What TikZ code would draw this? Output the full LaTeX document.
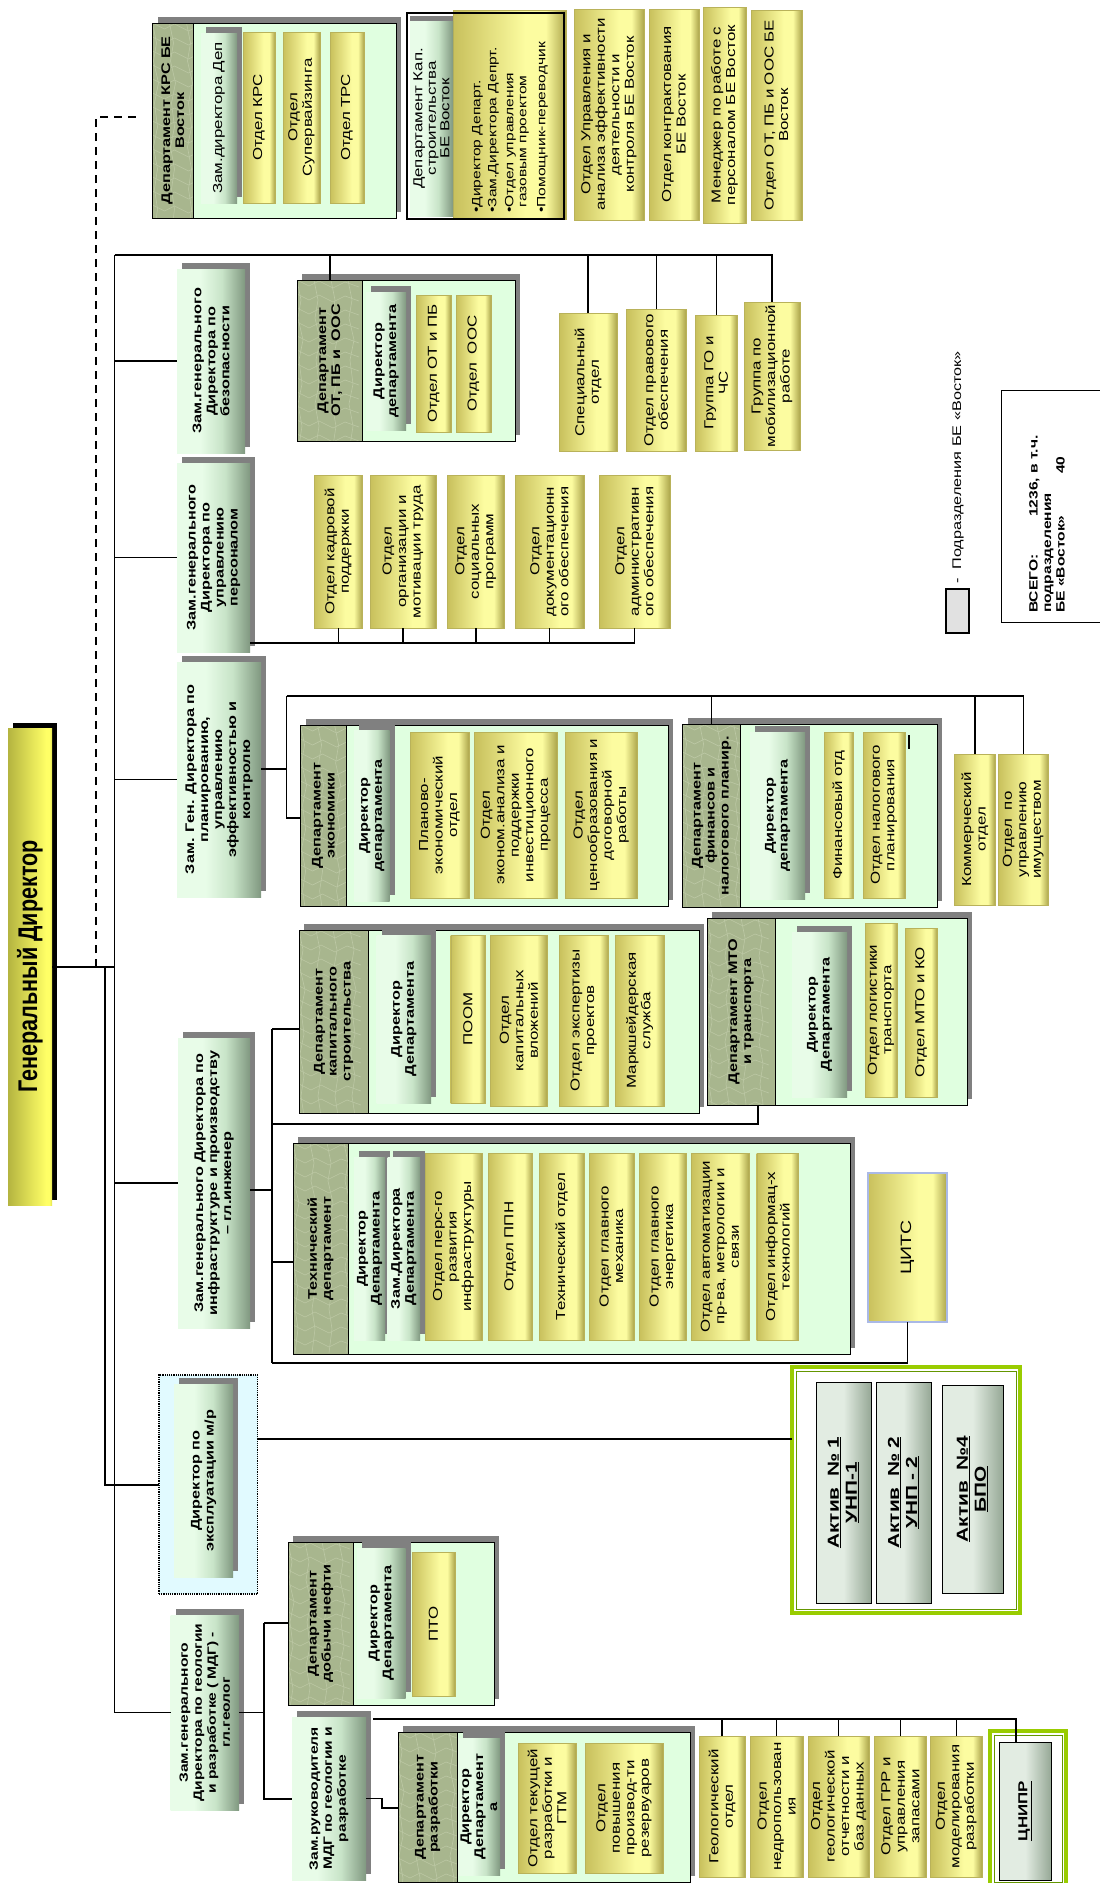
\documentclass[tikz,border=0pt]{standalone}
\usepackage{fontspec}
\setmainfont{Liberation Sans}[FakeStretch=1.3]
\newfontfamily\gdfont[FakeStretch=0.8]{Liberation Sans}
\usetikzlibrary{shadows}
\definecolor{yL}{RGB}{200,192,92}
\definecolor{yM}{RGB}{252,252,160}
\definecolor{yR}{RGB}{172,165,75}
\definecolor{yEdge}{RGB}{185,178,90}
\definecolor{mA}{RGB}{232,252,232}
\definecolor{mB}{RGB}{200,228,200}
\definecolor{mC}{RGB}{128,152,128}
\definecolor{gA}{RGB}{226,236,226}
\definecolor{gC}{RGB}{150,168,150}
\definecolor{hdrc}{RGB}{168,182,142}
\definecolor{hdrl}{RGB}{188,200,165}
\definecolor{grpc}{RGB}{224,255,224}
\definecolor{shc}{RGB}{128,128,128}
\definecolor{gdL}{RGB}{180,180,64}
\definecolor{gdM}{RGB}{255,255,102}
\definecolor{gdR}{RGB}{225,225,80}
\definecolor{lime}{RGB}{153,204,0}
\definecolor{limeD}{RGB}{100,150,0}
\definecolor{cyanbg}{RGB}{225,250,255}
\definecolor{citsb}{RGB}{170,185,230}
\definecolor{legc}{RGB}{225,225,225}
\pgfdeclarehorizontalshading{yelsh}{100bp}{color(0bp)=(yL); color(25bp)=(yL); color(57bp)=(yM); color(66bp)=(yM); color(75bp)=(yR); color(100bp)=(yR)}
\pgfdeclarehorizontalshading{mintsh}{100bp}{color(0bp)=(mA); color(25bp)=(mA); color(42bp)=(mA); color(58bp)=(mB); color(75bp)=(mC); color(100bp)=(mC)}
\pgfdeclarehorizontalshading{graysh}{100bp}{color(0bp)=(gA); color(25bp)=(gA); color(50bp)=(gA); color(75bp)=(gC); color(100bp)=(gC)}
\pgfdeclarehorizontalshading{gdsh}{100bp}{color(0bp)=(gdL); color(25bp)=(gdL); color(68bp)=(gdM); color(72bp)=(gdM); color(75bp)=(gdR); color(100bp)=(gdR)}
\newcommand\fs{\fontsize{13}{14.5}\selectfont}
\tikzset{
 bx/.style={inner sep=0pt, outer sep=0pt},
 yel/.style={bx, shade, shading=yelsh, draw=yEdge, line width=0.4pt},
 mint/.style={bx, shade, shading=mintsh},
 gry/.style={bx, shade, shading=graysh, draw=black, line width=0.6pt},
 hdr/.style={bx, fill=hdrc, draw=black, line width=0.8pt,
   path picture={\foreach \k in {0,...,14}{\draw[hdrl, line width=0.6pt]
     ([yshift=-\k*14pt]path picture bounding box.north west) -- ++(12pt,-6pt) -- ++(10pt,5pt) -- ++(14pt,-7pt) -- ++(12pt,6pt) -- ++(14pt,-5pt);
     \draw[hdrl, line width=0.6pt] ([xshift=\k*17pt]path picture bounding box.north west) -- ++(4pt,-20pt) -- ++(-3pt,-18pt) -- ++(5pt,-22pt) -- ++(-4pt,-20pt) -- ++(3pt,-24pt) -- ++(-4pt,-20pt) -- ++(4pt,-22pt) -- ++(-3pt,-20pt) -- ++(3pt,-20pt) -- ++(-3pt,-24pt);}}},
 grp/.style={bx, fill=grpc, draw=black, line width=0.8pt},
 shd/.style={general shadow={fill=shc, shadow xshift=5pt, shadow yshift=6pt}},
 txt/.style={inner sep=0pt, align=center, font=\fs},
 bt/.style={font=\fontsize{12.5}{14}\selectfont\bfseries},
 bts/.style={font=\fontsize{12}{14}\selectfont\bfseries},
 acttxt/.style={font=\fontsize{16}{18}\selectfont\bfseries},
 conn/.style={draw=black, line width=1.5pt},
 dconn/.style={draw=black, line width=1.5pt, dash pattern=on 8pt off 6pt},
}
% #1 box style, #2 text style, #3 name, #4 x1, #5 y1, #6 x2, #7 y2 (pixels, y downward), #8 text
\newcommand\ub[8]{%
 \pgfmathsetmacro\ubW{#6-#4}\pgfmathsetmacro\ubH{#7-#5}\pgfmathsetmacro\ubT{#7-#5-2}%
 \node[#1, minimum width=\ubW pt, minimum height=\ubH pt] (#3) at ({(#4+#6)/2},{-(#5+#7)/2}) {};
 \node[txt, rotate=90, text width=\ubT pt, #2] (#3-t) at (#3.center) {#8};}
\newcommand\boxY[6]{\ub{yel}{}{#1}{#2}{#3}{#4}{#5}{#6}}
\newcommand\boxM[6]{\ub{mint,shd}{bt}{#1}{#2}{#3}{#4}{#5}{#6}}
\newcommand\boxMs[6]{\ub{mint,shd}{bts}{#1}{#2}{#3}{#4}{#5}{#6}}
\newcommand\boxMr[6]{\ub{mint,shd}{}{#1}{#2}{#3}{#4}{#5}{#6}}
\newcommand\boxH[6]{\ub{hdr}{bt}{#1}{#2}{#3}{#4}{#5}{#6}}
\newcommand\boxG[5]{\ub{grp,shd}{}{#1}{#2}{#3}{#4}{#5}{}}
\newcommand\boxA[6]{\ub{gry}{acttxt}{#1}{#2}{#3}{#4}{#5}{#6}}
\begin{document}
\begin{tikzpicture}[x=1pt,y=1pt]
\useasboundingbox[fill=white] (0,0) rectangle (1100,-1883);

% General director
\node[bx, shade, shading=gdsh, general shadow={fill=black, shadow xshift=4.5pt, shadow yshift=5pt}, minimum width=44pt, minimum height=477pt] (gd) at (30,-966.5) {};
\node[txt, rotate=90, font=\gdfont\bfseries\fontsize{27}{30}\selectfont] (gd-t) at (gd.center) {Генеральный Директор};

% ---------- top row ----------
\boxG{krsG}{152.5}{23}{396}{218}
\boxH{krsH}{152.5}{23}{193}{218}{Департамент КРС БЕ\\Восток}
\boxMr{krsM}{201}{33}{237}{203}{Зам.директора Деп}
\boxY{krs1}{243}{32}{275}{203}{Отдел КРС}
\boxY{krs2}{283}{32}{320}{203}{Отдел\\Супервайзинга}
\boxY{krs3}{330}{32}{364}{203}{Отдел ТРС}

\boxY{kapY}{453}{10}{566}{219}{}
\fill[shc] (410,-16) rectangle (453,-21);
\ub{mint}{font=\fontsize{13}{13.5}\selectfont}{kapM}{410}{21}{453}{216}{Департамент Кап.\\строительства\\БЕ Восток}
\node[bx, draw=black, line width=1.6pt, minimum width=157pt, minimum height=206pt] (kapB) at (485.5,-116) {};
\node[txt, rotate=90, anchor=west, align=left, font=\fontsize{12}{13}\selectfont] (kapT) at (510,-213) {•Директор Департ.\\[3pt]•Зам.Директора Депрт.\\[4pt]•Отдел управления\\\hphantom{•}газовым проектом\\[6pt]•Помощник-переводчик};

\boxY{top1}{574}{9}{644}{220}{Отдел Управления и\\анализа эффективности\\деятельности и\\контроля БЕ Восток}
\boxY{top2}{649}{9}{699}{220}{Отдел контрактования\\БЕ Восток}
\boxY{top3}{703}{7}{746}{223}{Менеджер по работе с\\персоналом БЕ Восток}
\boxY{top4}{751}{10}{802}{220}{Отдел ОТ, ПБ и ООС БЕ\\Восток}

% ---------- safety ----------
\boxM{zamB}{177}{269}{245}{453}{Зам.генерального\\Директора по\\безопасности}
\boxG{otG}{297}{280}{515}{441}
\boxH{otH}{297}{280}{362.5}{441}{Департамент\\ОТ, ПБ и\ \ ООС}
\boxM{otD}{366}{292}{406}{430}{Директор\\департамента}
\boxY{ot1}{416.6}{295}{450.7}{432}{Отдел ОТ и ПБ}
\boxY{ot2}{456}{295}{491}{432}{Отдел\ \ ООС}
\boxY{spec}{559}{313}{617}{451}{Специальный\\отдел}
\boxY{prav}{626.5}{309}{686}{451}{Отдел правового\\обеспечения}
\boxY{gochs}{695.5}{315}{737}{451}{Группа ГО и\\ЧС}
\boxY{mob}{744}{302}{800}{450}{Группа по\\мобилизационной\\работе}

% ---------- personnel ----------
\boxM{zamP}{177}{463}{250}{652}{Зам.генерального\\Директора по\\управлению\\персоналом}
\boxY{p1}{314}{475}{362.5}{628}{Отдел кадровой\\поддержки}
\boxY{p2}{370}{475}{436}{628}{Отдел\\организации и\\мотивации труда}
\boxY{p3}{447.5}{475}{504}{628}{Отдел\\социальных\\программ}
\boxY{p4}{515}{475}{584}{628}{Отдел\\документационн\\ого обеспечения}
\boxY{p5}{599}{475}{670}{628}{Отдел\\административн\\ого обеспечения}

% ---------- planning ----------
\boxM{zamPl}{177}{662}{261}{897}{Зам. Ген. Директора по\\планированию,\\управлению\\эффективностью и\\контролю}
\boxG{ecoG}{300.6}{725}{668}{906}
\boxH{ecoH}{300.6}{725}{346}{906}{Департамент\\экономики}
\boxM{ecoD}{354}{730}{389.5}{901}{Директор\\департамента}
\boxY{eco1}{410}{732}{469}{898}{Планово-\\экономический\\отдел}
\boxY{eco2}{474.5}{732}{557}{898}{Отдел\\эконом.анализа и\\поддержки\\инвестиционного\\процесса}
\boxY{eco3}{565}{732}{637.5}{898}{Отдел\\ценообразования и\\договорной\\работы}
\boxG{finG}{682.6}{724}{937}{907}
\boxH{finH}{682.6}{724}{740.6}{907}{Департамент\\финансов и\\налогового планир.}
\boxM{finD}{750}{732}{805}{899}{Директор\\департамента}
\boxY{fin1}{824}{732}{853}{898}{Финансовый отд}
\boxY{fin2}{863}{732}{905}{898}{Отдел налогового\\планирования}
\draw[line width=1.2pt] ([xshift=-28pt,yshift=-11pt]finG.north east) -- ++(0,-14);
\boxY{kom}{954.5}{754}{995}{905}{Коммерческий\\отдел}
\boxY{imu}{998}{754}{1048.5}{905}{Отдел\ \ по\\управлению\\имуществом}

% ---------- infrastructure ----------
\boxM{zamI}{178}{1038}{250}{1328}{Зам.генерального Директора по\\инфраструктуре и производству\\– гл.инженер}
\boxG{kcG}{299}{930}{699}{1113}
\boxH{kcH}{299}{930}{368}{1113}{Департамент\\капитального\\строительства}
\boxM{kcD}{376.6}{935}{431}{1103}{Директор\\Департамента}
\boxY{kc1}{450.7}{935}{485}{1103}{ПООМ}
\boxY{kc2}{490.6}{935}{547}{1106}{Отдел\\капитальных\\вложений}
\boxY{kc3}{559}{935}{608.5}{1106}{Отдел экспертизы\\проектов}
\boxY{kc4}{615}{935}{664.5}{1106}{Маркшейдерская\\служба}
\boxG{mtoG}{707}{918}{967}{1105}
\boxH{mtoH}{707}{918}{775}{1105}{Департамент МТО\\и транспорта}
\boxM{mtoD}{792}{932}{847}{1097}{Директор\\Департамента}
\boxY{mto1}{865}{923}{897}{1097}{Отдел логистики\\транспорта}
\boxY{mto2}{905}{928}{937}{1097}{Отдел МТО и КО}

\boxG{tecG}{293}{1143}{850}{1354}
\boxH{tecH}{293}{1143}{348}{1354}{Технический\\департамент}
\boxM{tecD}{354}{1157}{385}{1340}{Директор\\Департамента}
\boxM{tecZ}{387.6}{1157}{420}{1340}{Зам.Директора\\Департамента}
\boxY{tec1}{425}{1153}{482}{1340}{Отдел перс-го\\развития\\инфраструктуры}
\boxY{tec2}{488}{1153}{532.5}{1340}{Отдел ППН}
\boxY{tec3}{539}{1153}{584}{1340}{Технический отдел}
\boxY{tec4}{589}{1153}{634}{1340}{Отдел главного\\механика}
\boxY{tec5}{639.5}{1153}{686}{1340}{Отдел главного\\энергетика}
\boxY{tec6}{691}{1153}{749}{1340}{Отдел автоматизации\\пр-ва, метрологии и\\связи}
\boxY{tec7}{756.7}{1153}{798.5}{1340}{Отдел информац-х\\технологий}
\ub{yel, draw=citsb, line width=2pt}{font=\fontsize{15}{17}\selectfont}{cits}{867.5}{1173}{947}{1322}{ЦИТС}

% ---------- exploitation ----------
\ub{bx, fill=cyanbg, draw=black, densely dotted, line width=1.2pt}{}{exd}{159}{1375}{257.5}{1594}{}
\boxM{exM}{174}{1384}{233}{1577}{Директор по\\эксплуатации м/р}
\ub{bx, fill=white, draw=lime, line width=4pt}{}{act}{792}{1367}{1020}{1613}{}
\draw[limeD, line width=1pt] ([shift={(4,-4)}]act.north west) rectangle ([shift={(-4,4)}]act.south east);
\boxA{a1}{816}{1382}{871}{1603}{\underline{Актив\ \ № 1}\\\underline{УНП-1}}
\boxA{a2}{876}{1382}{931}{1603}{\underline{Актив\ \ № 2}\\\underline{УНП - 2}}
\boxA{a3}{942}{1385}{1003}{1593}{\underline{Актив\ \ №4}\\\underline{БПО}}

% ---------- geology ----------
\boxMs{zamG}{170.5}{1615}{239}{1810}{Зам.генерального\\Директора по геологии\\и разработке ( МДГ) -\\гл.геолог}
\boxG{dobG}{288}{1542}{494}{1705}
\boxH{dobH}{288}{1542}{353}{1705}{Департамент\\добычи нефти}
\boxM{dobD}{357}{1548}{405.6}{1698}{Директор\\Департамента}
\boxY{pto}{412}{1552}{455}{1696}{ПТО}
\boxMs{zamM}{292}{1717}{366}{1880}{Зам.руководителя\\МДГ по геологии и\\разработке}
\boxG{razG}{398}{1732}{690}{1882}
\boxH{razH}{398}{1732}{457}{1882}{Департамент\\разработки}
\boxM{razD}{458}{1738}{500}{1875}{Директор\\Департамент\\а}
\boxY{raz1}{518}{1743}{576}{1873}{Отдел текущей\\разработки и\\ГТМ}
\boxY{raz2}{585}{1743}{663}{1873}{Отдел\\повышения\\производ-ти\\резервуаров}
\boxY{g1}{699}{1736}{745}{1877}{Геологический\\отдел}
\boxY{g2}{750}{1736}{803}{1877}{Отдел\\недропользован\\ия}
\boxY{g3}{808}{1736}{869}{1877}{Отдел\\геологической\\отчетности и\\баз данных}
\boxY{g4}{874.6}{1736}{926}{1877}{Отдел ГРР и\\управления\\запасами}
\boxY{g5}{930.6}{1736}{982}{1877}{Отдел\\моделирования\\разработки}
\ub{bx, fill=white, draw=lime, line width=4pt}{}{cnF}{990}{1731}{1066}{1886}{}
\draw[limeD, line width=1pt] ([shift={(4,-4)}]cnF.north west) rectangle ([shift={(-4,4)}]cnF.south east);
\ub{gry}{font=\fontsize{13}{15}\selectfont\bfseries}{cnipr}{999.5}{1742}{1051}{1880}{\underline{ЦНИПР}}

% ---------- legend ----------
\node[bx, fill=legc, draw=black, line width=1.8pt, minimum width=23pt, minimum height=44pt] (leg) at (957.5,-611) {};
\node[txt, rotate=90, anchor=west, font=\fontsize{12.5}{14}\selectfont] (leg-t) at (958,-584) {-\ \ Подразделения БЕ «Восток»};
\node[bx, draw=black, line width=0.8pt, minimum width=106pt, minimum height=232pt] (tot) at (1054,-506) {};
\node[txt, rotate=90, anchor=west, align=left, font=\fontsize{12}{13.5}\selectfont\bfseries] (tot-t) at (1047,-613) {\makebox[96pt][l]{ВСЕГО:}1236, в т.ч.\\подразделения\\\makebox[139pt][l]{БЕ «Восток»}40};

% ---------- connectors ----------
\coordinate (gdJ) at (114.5,-967);
\coordinate (trTop) at (114.5,-255);
\coordinate (inTop) at (105,-967);
\coordinate (inBot) at (105,-1485);
\coordinate (dA) at (96,-967);
\coordinate (dB) at (96,-117);
\coordinate (dC) at (138,-117);
\draw[conn] (gd.east |- gdJ) -- (gdJ);
\draw[dconn] (dA) -- (dB) -- (dC);
\draw[conn] (trTop) -- (zamG.west -| trTop) -- (zamG.west);
\draw[conn] (inTop) -- (inBot) -- (inBot -| exd.west);
\draw[conn] (zamB.west -| trTop) -- (zamB.west);
\draw[conn] (zamP.west -| trTop) -- (zamP.west);
\draw[conn] (zamPl.west -| trTop) -- (zamPl.west);
\draw[conn] (zamI.west -| trTop) -- (zamI.west);

% safety
\draw[conn] (trTop) -| (mob.north);
\draw[conn] (otH.north) -- (otH.north |- trTop);
\draw[conn] (spec.north) -- (spec.north |- trTop);
\draw[conn] (prav.north) -- (prav.north |- trTop);
\draw[conn] (gochs.north) -- (gochs.north |- trTop);

% personnel
\coordinate (pL) at ([yshift=9pt]zamP.south east);
\draw[conn] (pL) -| (p5.south);
\draw[conn] (p1.south) -- (p1.south |- pL);
\draw[conn] (p2.south) -- (p2.south |- pL);
\draw[conn] (p3.south) -- (p3.south |- pL);
\draw[conn] (p4.south) -- (p4.south |- pL);

% planning
\coordinate (plJ) at (286.5,-769);
\coordinate (plT) at (286.5,-696);
\coordinate (plB) at (286.5,-818);
\draw[conn] (zamPl.east |- plJ) -- (plJ);
\draw[conn] (plT) -- (plB) -- (plB -| ecoH.west);
\draw[conn] (plT) -| (imu.north);
\draw[conn] (finH.north) -- (finH.north |- plT);
\draw[conn] (kom.north) -- (kom.north |- plT);

% infrastructure
\coordinate (iJ) at (272,-1190);
\coordinate (iT) at (272,-1029);
\coordinate (iB) at (272,-1363);
\coordinate (iTec) at (272,-1262);
\coordinate (iM) at (272,-1124);
\coordinate (mtoC) at (758,-1105);
\draw[conn] (zamI.east |- iJ) -- (iJ);
\draw[conn] (iT) -- (iB);
\draw[conn] (iT) -- (iT -| kcH.west);
\draw[conn] (iTec) -- (iTec -| tecH.west);
\draw[conn] (iM) -| (mtoC);
\draw[conn] (iB) -| (cits.south);

% exploitation
\coordinate (eJ) at (0,-1439);
\draw[conn] (exd.east |- eJ) -- (act.west |- eJ);

% geology
\coordinate (gT) at (264,-1623);
\coordinate (gB) at (264,-1799);
\coordinate (mS) at (382,-1808);
\coordinate (gL) at (373,-1719);
\coordinate (cnC) at (1016,-1742);
\draw[conn] (zamG.east) -- (zamG.east -| gT);
\draw[conn] (gT) -- (gB) -- (gB -| zamM.west);
\draw[conn] (gT) -- (gT -| dobH.west);
\draw[conn] (zamM.east) -| (mS) -- (mS -| razH.west);
\draw[conn] (gL) -| (cnC);
\draw[conn] (g1.north) -- (g1.north |- gL);
\draw[conn] (g2.north) -- (g2.north |- gL);
\draw[conn] (g3.north) -- (g3.north |- gL);
\draw[conn] (g4.north) -- (g4.north |- gL);
\draw[conn] (g5.north) -- (g5.north |- gL);
\end{tikzpicture}
\end{document}
